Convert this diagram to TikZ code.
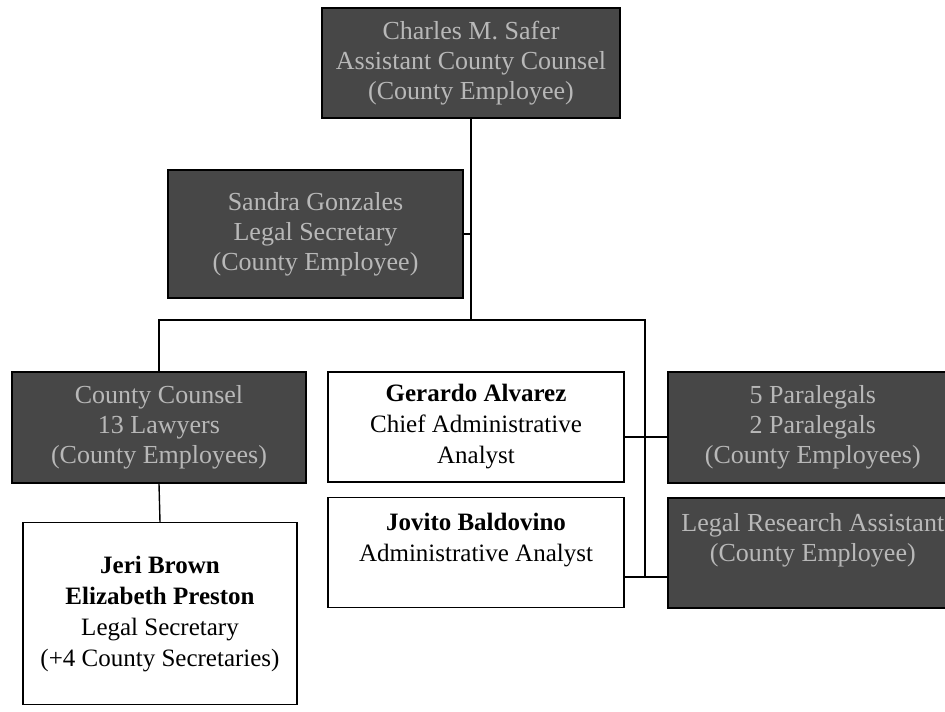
\documentclass[tikz,border=0pt]{standalone}
\usepackage{fontspec}
\setmainfont{Liberation Serif}
\begin{document}
\begin{tikzpicture}[x=1pt,y=-1pt]
\tikzset{
  dark/.style={draw=black, line width=1.6pt, fill=black!72, text=black!28, align=center, inner sep=0pt,
    font=\fontsize{26}{30}\selectfont},
  light/.style={draw=black, line width=1.4pt, fill=white, text=black, align=center, inner sep=0pt,
    font=\fontsize{25}{31}\selectfont},
  conn/.style={line width=1.4pt}
}
\useasboundingbox (0,0) rectangle (945,712);
\clip (0,0) rectangle (945,712);
\node[dark, minimum width=298pt, minimum height=110pt] (top) at (471,63)
  {Charles M. Safer\\Assistant County Counsel\\(County Employee)};
\node[dark, minimum width=295pt, minimum height=128pt] (sandra) at (315.5,234)
  {Sandra Gonzales\\Legal Secretary\\(County Employee)};
\node[dark, minimum width=294pt, minimum height=111pt] (cc) at (159,427.5)
  {County Counsel\\13 Lawyers\\(County Employees)};
\node[light, minimum width=274pt, minimum height=182pt, anchor=north] (jeri) at (160,522)
  {\textbf{Jeri Brown}\\\textbf{Elizabeth Preston}\\Legal Secretary\\(+4 County Secretaries)};
\node[light, minimum width=296pt, minimum height=110pt] (gerardo) at (476,427)
  {\textbf{Gerardo Alvarez}\\Chief Administrative\\Analyst};
\node[light, minimum width=296pt, minimum height=110pt, anchor=north] (jovito) at (476,497)
  {\textbf{Jovito Baldovino}\\Administrative Analyst\\\mbox{}};
\node[dark, minimum width=290pt, minimum height=111pt, anchor=west] (para) at (667,427.5)
  {5 Paralegals\\2 Paralegals\\(County Employees)};
\node[dark, minimum width=290pt, minimum height=110pt, anchor=north west] (research) at (667,497)
  {Legal Research Assistant\\(County Employee)\\\mbox{}};
\coordinate (busL) at (158,320);
\coordinate (busM) at (471,320);
\coordinate (busR) at (645,320);
\coordinate (gy) at (0,437);
\coordinate (jy) at (0,577);
\draw[conn] (top.south) -- (busM);
\draw[conn] (sandra.east) -- (sandra.east -| busM);
\draw[conn] (cc.north) |- (busR) -- (busR |- jy);
\draw[conn] (cc.south) -- (jeri.north);
\draw[conn] (gerardo.east |- gy) -- (para.west |- gy);
\draw[conn] (jovito.east |- jy) -- (research.west |- jy);
\end{tikzpicture}
\end{document}
